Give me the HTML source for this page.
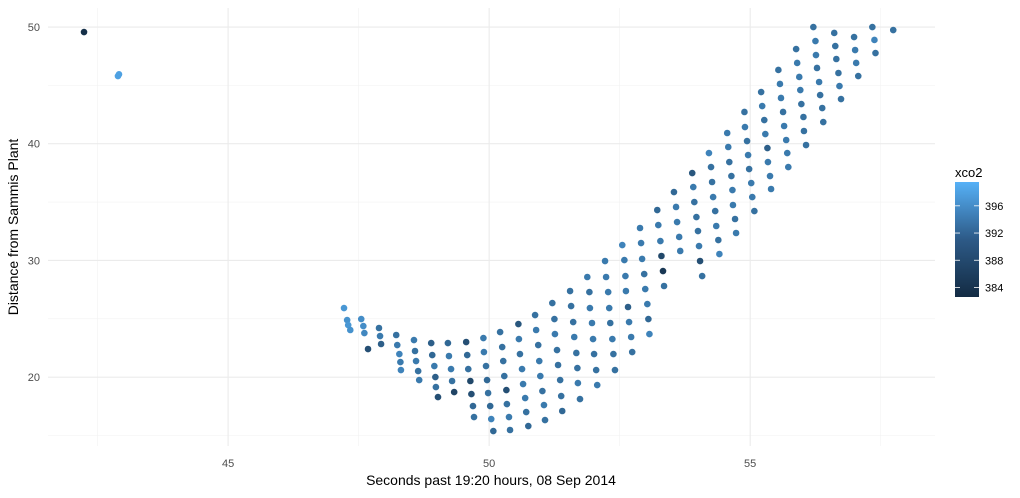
<!DOCTYPE html>
<html><head><meta charset="utf-8"><style>
body{margin:0;background:#fff;font-family:"Liberation Sans",sans-serif}
svg text{font-family:"Liberation Sans",sans-serif}
</style></head><body>
<svg id="chart" width="1020" height="493" xmlns="http://www.w3.org/2000/svg">
<defs><linearGradient id="lg" x1="0" y1="1" x2="0" y2="0">
<stop offset="0" stop-color="#132B43"/><stop offset="0.5" stop-color="#2d5a87"/><stop offset="1" stop-color="#56B1F7"/></linearGradient></defs>
<rect width="1020" height="493" fill="#fff"/>
<g id="grid"></g>
<g id="pts"></g>
<g id="axes"></g>
<text x="491" y="485" text-anchor="middle" font-size="14" fill="#000">Seconds past 19:20 hours, 08 Sep 2014</text>
<text transform="translate(18,227) rotate(-90)" text-anchor="middle" font-size="14" fill="#000">Distance from Sammis Plant</text>
<g>
<text x="955" y="177" font-size="13" fill="#000">xco2</text>
<rect x="955" y="182" width="24" height="115" fill="url(#lg)"/>
<g id="legticks"></g>
</g>
</svg>
<script>
const xs=[42.24,42.89,42.91,
47.22,47.28,47.30,47.34,
47.55,47.59,47.61,47.68,
47.89,47.91,47.93,
48.22,48.24,48.28,48.30,48.31,
48.56,48.58,48.60,48.64,48.66,
48.89,48.91,48.95,48.97,48.98,49.02,
49.21,49.23,49.27,49.29,49.33,
49.56,49.58,49.60,49.64,49.66,49.69,49.71,
49.89,49.90,49.94,49.96,49.98,50.02,50.04,50.08,
50.21,50.25,50.27,50.29,50.33,50.34,50.38,50.40,
50.56,50.57,50.59,50.63,50.65,50.69,50.71,50.75,
50.88,50.90,50.94,50.96,50.98,51.02,51.05,51.07,
51.21,51.25,51.26,51.30,51.32,51.36,51.38,51.40,
51.55,51.57,51.61,51.63,51.67,51.69,51.70,51.74,
51.88,51.92,51.93,51.97,51.99,52.01,52.05,52.07,
52.22,52.24,52.28,52.30,52.32,52.36,52.38,52.41,
52.55,52.59,52.61,52.62,52.66,52.68,52.72,52.74,
52.89,52.91,52.93,52.97,52.99,53.03,53.05,53.07,
53.22,53.24,53.28,53.30,53.33,53.35,
53.54,53.58,53.60,53.64,53.66,
53.89,53.91,53.93,53.97,54.00,54.02,54.04,54.08,
54.21,54.25,54.27,54.29,54.33,54.35,54.39,54.41,
54.56,54.58,54.60,54.64,54.66,54.67,54.71,54.73,
54.89,54.90,54.94,54.96,54.98,55.02,55.04,55.08,
55.21,55.23,55.27,55.29,55.33,55.34,55.38,55.40,
55.54,55.57,55.59,55.63,55.65,55.69,55.71,55.73,
55.88,55.90,55.94,55.96,55.98,56.02,56.03,56.07,
56.21,56.25,56.26,56.28,56.32,56.34,56.38,56.40,
56.61,56.63,56.65,56.69,56.71,56.74,
56.99,57.01,57.03,57.07,
57.34,57.38,57.40,
57.74];
const ys=[49.57,45.80,45.95,
25.92,24.89,24.46,24.04,
24.98,24.38,23.78,22.41,
24.21,23.52,22.84,
23.61,22.75,21.98,21.29,20.61,
23.18,22.24,21.38,20.52,19.75,
22.92,21.89,20.95,20.01,19.15,18.29,
22.92,21.81,20.69,19.67,18.72,
23.01,21.89,20.69,19.67,18.55,17.52,16.58,
23.35,22.15,20.95,19.75,18.64,17.52,16.41,15.38,
23.86,22.58,21.38,20.09,18.89,17.69,16.58,15.47,
24.55,23.26,21.98,20.69,19.41,18.21,17.01,15.81,
25.32,24.04,22.75,21.38,20.09,18.81,17.61,16.32,
26.35,24.98,23.69,22.32,21.04,19.75,18.38,17.10,
27.38,26.09,24.72,23.44,22.07,20.78,19.49,18.12,
28.58,27.29,25.92,24.64,23.26,21.98,20.61,19.32,
29.95,28.58,27.29,25.92,24.64,23.26,21.98,20.61,
31.32,30.03,28.66,27.38,26.01,24.72,23.44,22.15,
32.78,31.49,30.13,28.83,27.55,26.26,24.98,23.69,
34.32,33.03,31.66,30.38,29.09,27.81,
35.86,34.58,33.29,32.01,30.81,
37.49,36.29,35.00,33.72,32.52,31.23,29.95,28.66,
39.20,38.00,36.72,35.43,34.23,32.95,31.75,30.55,
40.92,39.72,38.43,37.23,36.03,34.75,33.55,32.35,
42.72,41.43,40.23,39.03,37.83,36.63,35.43,34.23,
44.43,43.23,42.03,40.83,39.63,38.43,37.23,36.12,
46.32,45.12,43.92,42.72,41.52,40.32,39.20,38.00,
48.11,46.92,45.72,44.60,43.40,42.29,41.09,39.89,
50.00,48.80,47.60,46.49,45.29,44.17,43.06,41.86,
49.49,48.37,47.26,46.06,44.94,43.83,
49.14,48.03,46.92,45.80,
50.00,48.89,47.77,
49.74];
const xco2=[384,398,398,
397,396.5,397,396.5,
396,396,395.5,389,
393,394,391,
393,394,395,394,395,
394,393,394,393,394,
391,392,394,391,393,389,
392,394,394,393,387.5,
389,392,393,388,389,392,393,
394,394,393,392,393,392,395,392,
393,393,393,393,389,393,394,393,
390,394,393,394,394,394,393,392,
393,394,393,394,394,393,394,393,
393,393,394,393,393,393,393,392,
393,393,393,394,393,393,394,393,
394,393,394,394,394,393,393,394,
394,394,394,394,393,394,393,393,
395,394,394,394,391,394,394,393,
394,394,394,393,394,394,392,395,
392,394,394,388,385.5,393,
392,394,394,394,394,
390,394,393,393,393,394,389,393,
395,393,393,394,393,394,393,395,
394,394,393,393,394,394,393,394,
393,394,393,394,393,394,394,393,
393,394,393,394,391,394,394,394,
393,394,394,393,394,394,394,394,
393,394,394,394,393,393,393,393,
393,394,394,393,394,393,393,393,
393,393,393,393,394,393,
393,394,394,393,
393,395,393,
393];
const xTicks=[45,50,55];
const xMinor=[42.5,47.5,52.5,57.5];
const yTicks=[20,30,40,50];
const yMinor=[15,25,35,45];
const legTicks=[384,388,392,396];

const NS='http://www.w3.org/2000/svg';
const X0=48,X1=935,Y0=8,Y1=446;
const xMin=41.55,xMax=58.54,yMin=14.1,yMax=51.63;
function sx(v){return X0+(v-xMin)/(xMax-xMin)*(X1-X0);}
function sy(v){return Y1-(v-yMin)/(yMax-yMin)*(Y1-Y0);}
const cMin=382.6,cMax=399.5;
function col(v){
  let t=Math.max(0,Math.min(1,(v-cMin)/(cMax-cMin)));
  t=Math.pow(t,1.35);
  const a=[19,43,67],b=[86,177,247];
  return 'rgb('+a.map((c,i)=>Math.round(c+(b[i]-c)*t)).join(',')+')';
}
function mk(tag,attrs,parent){const e=document.createElementNS(NS,tag);for(const k in attrs)e.setAttribute(k,attrs[k]);parent.appendChild(e);return e;}
const grid=document.getElementById('grid');
xMinor.forEach(v=>{const l=mk('line',{x1:sx(v),x2:sx(v),y1:Y0,y2:Y1,stroke:'#f2f2f2','stroke-width':0.6},grid);

});
yMinor.forEach(v=>{const l=mk('line',{x1:X0,x2:X1,y1:sy(v),y2:sy(v),stroke:'#f2f2f2','stroke-width':0.6},grid);

});
xTicks.forEach(v=>{const l=mk('line',{x1:sx(v),x2:sx(v),y1:Y0,y2:Y1,stroke:'#ebebeb','stroke-width':1.1},grid);

});
yTicks.forEach(v=>{const l=mk('line',{x1:X0,x2:X1,y1:sy(v),y2:sy(v),stroke:'#ebebeb','stroke-width':1.1},grid);

});
const axes=document.getElementById('axes');
xTicks.forEach(v=>{const t=mk('text',{x:sx(v),y:467,'text-anchor':'middle','font-size':11,fill:'#4d4d4d'},axes);t.textContent=v;

});
yTicks.forEach(v=>{const t=mk('text',{x:40,y:sy(v)+4,'text-anchor':'end','font-size':11,fill:'#4d4d4d'},axes);t.textContent=v;

});
const pts=document.getElementById('pts');
xs.forEach((v,i)=>{const c=mk('circle',{cx:sx(v),cy:sy(ys[i]),r:3.3,fill:col(xco2[i])},pts);

});
const lt=document.getElementById('legticks');
const lY=v=>297-(v-cMin)/(cMax-cMin)*115;
legTicks.forEach(v=>{const y=lY(v);
mk('line',{x1:955,x2:960,y1:y,y2:y,stroke:'#fff','stroke-width':0.8},lt);
mk('line',{x1:974,x2:979,y1:y,y2:y,stroke:'#fff','stroke-width':0.8},lt);
const t=mk('text',{x:985,y:y+4,'font-size':11,fill:'#000'},lt);t.textContent=v;

});
</script>
</body></html>
